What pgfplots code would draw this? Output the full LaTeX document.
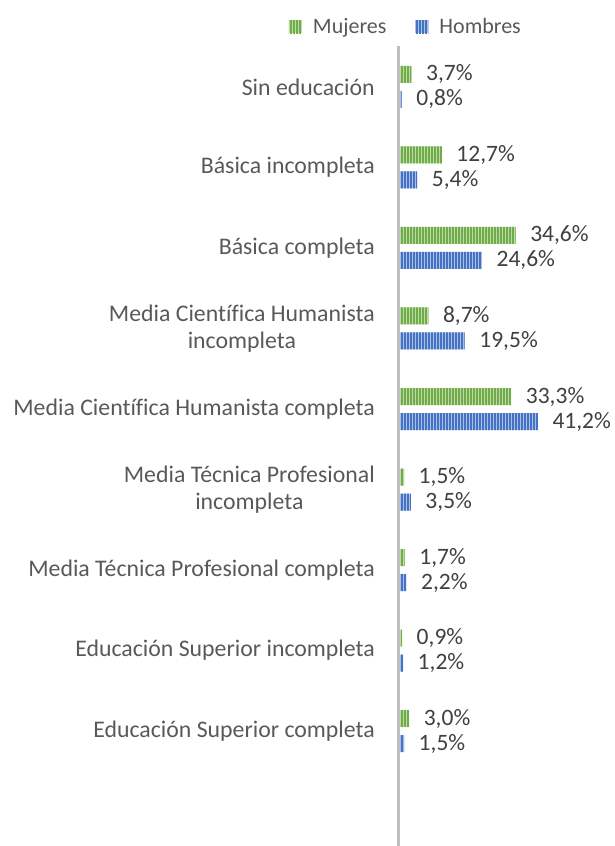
\documentclass[border=0pt]{standalone}
\usepackage{pgfplots}
\pgfplotsset{compat=1.18}
\usetikzlibrary{patterns.meta}
\usepackage{fontspec}
\setmainfont{Carlito}[Ligatures=NoCommon]
\definecolor{mgreen}{HTML}{70AD47}
\definecolor{mblue}{HTML}{4472C4}
\definecolor{lbl}{HTML}{595959}
\definecolor{val}{HTML}{404040}
\definecolor{axisgray}{HTML}{BFBFBF}
\begin{document}
\begin{tikzpicture}
\begin{axis}[
  at={(0pt,0pt)}, anchor=south west,
  scale only axis, width=216pt, height=800pt,
  xbar, xmin=0, xmax=64.1, ymin=-1.428, ymax=8.509,
  hide x axis,
  axis y line*=left,
  y axis line style={draw=none},
  ytick={0,...,8},
  yticklabels={Educación Superior completa, Educación Superior incompleta, Media Técnica Profesional completa, {Media Técnica Profesional\\incompleta}, Media Científica Humanista completa, {Media Científica Humanista\\incompleta}, Básica completa, Básica incompleta, Sin educación},
  major tick length=0pt,
  yticklabel style={font=\fontsize{23.8}{27}\selectfont, text=lbl, align=center, inner sep=0pt, xshift=-24pt},
  bar width=17pt,
  clip=false,
  nodes near coords={\pgfmathprintnumber[fixed,zerofill,precision=1,use comma,assume math mode=true]{\pgfplotspointmeta}\%},
  nodes near coords style={font=\fontsize{23.5}{27}\selectfont, text=val, anchor=west, inner sep=0pt, xshift=14.5pt},
  legend columns=2,
  legend style={at={(axis description cs:0.032,1.024)}, anchor=center, draw=none, fill=none,
    font=\fontsize{22}{26}\selectfont, text=lbl,
    /tikz/every odd column/.append style={column sep=9pt},
    /tikz/every even column/.append style={column sep=27pt},
    inner sep=0pt},
  legend image code/.code={\path[#1] (0pt,-6.5pt) rectangle (13pt,6.5pt);},
]
\addplot[draw=none, fill=mgreen!45!white, bar shift=12.5pt,
  postaction={pattern={Lines[angle=90,distance=3pt,line width=1.8pt]}, pattern color=mgreen}]
  coordinates {(3.0,0) (0.9,1) (1.7,2) (1.5,3) (33.3,4) (8.7,5) (34.6,6) (12.7,7) (3.7,8)};
\addlegendentry{Mujeres}
\addplot[draw=none, fill=mblue!45!white, bar shift=-12.5pt,
  postaction={pattern={Lines[angle=90,distance=3pt,line width=1.8pt]}, pattern color=mblue}]
  coordinates {(1.5,0) (1.2,1) (2.2,2) (3.5,3) (41.2,4) (19.5,5) (24.6,6) (5.4,7) (0.8,8)};
\addlegendentry{Hombres}
\draw[axisgray, line width=3pt] (axis cs:0,-1.428) -- (axis cs:0,8.509);
\end{axis}
\pgfresetboundingbox
\path (-399pt,0pt) rectangle (216pt,846pt);
\end{tikzpicture}
\end{document}
